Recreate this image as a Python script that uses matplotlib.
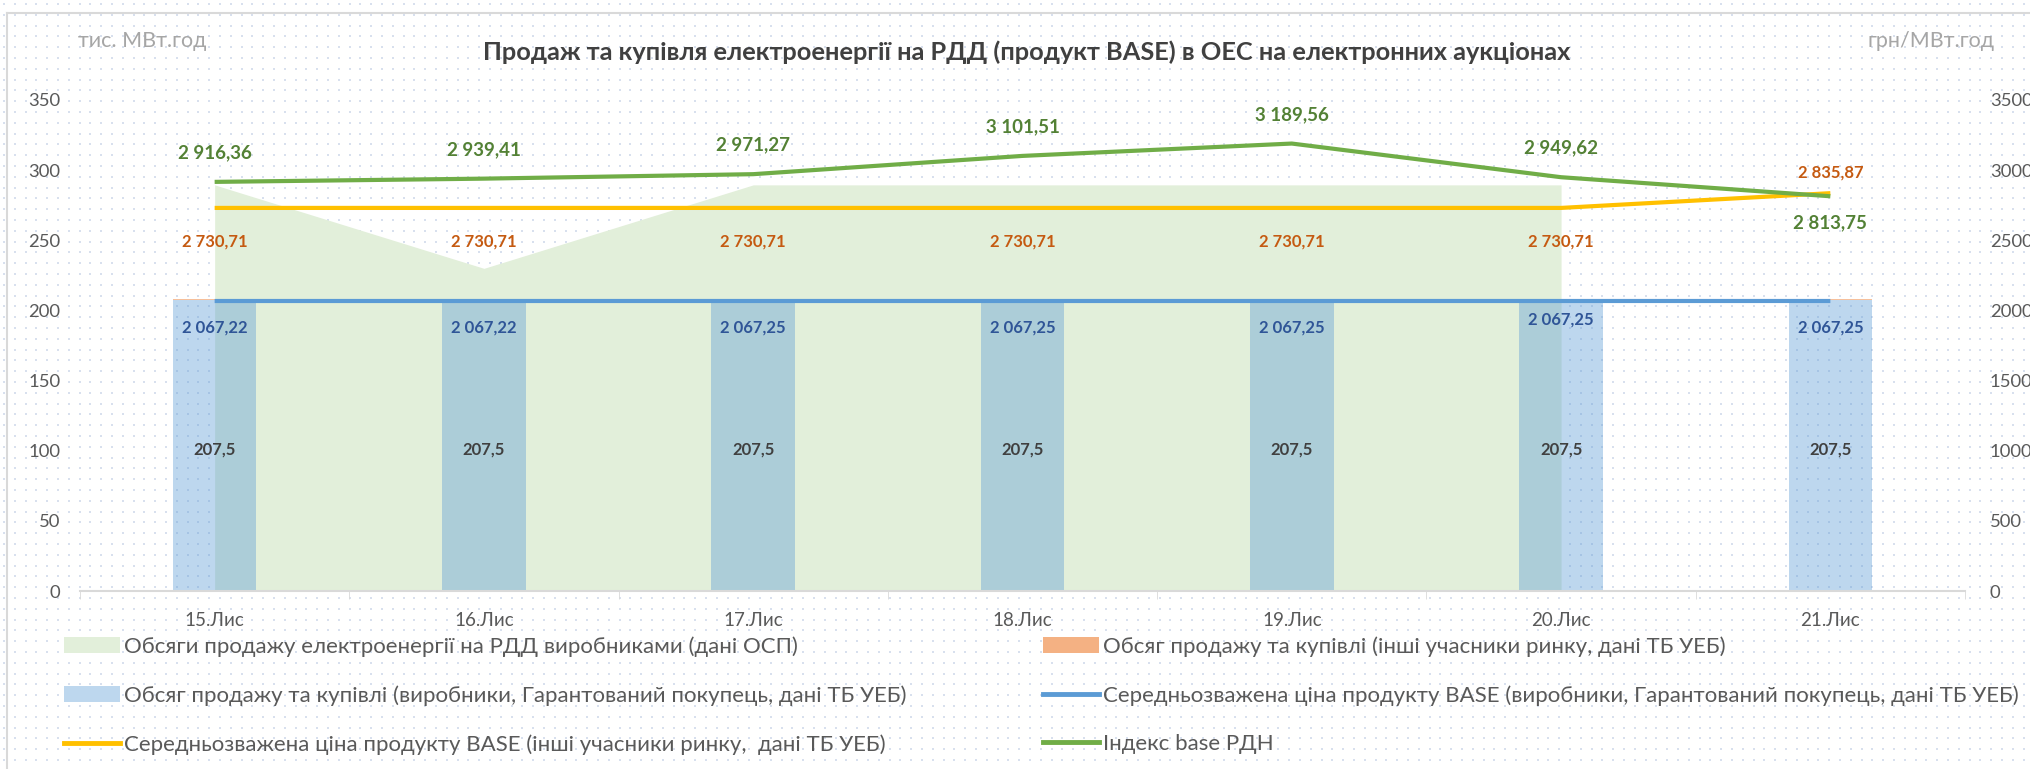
import numpy as np
import matplotlib.pyplot as plt
from matplotlib.patches import Patch
from matplotlib.lines import Line2D

plt.rcParams['font.family'] = ['Lato', 'DejaVu Sans']

# дані
dates = ['15.Лис', '16.Лис', '17.Лис', '18.Лис', '19.Лис', '20.Лис', '21.Лис']
osp_volume = [289.5, 230.0, 289.5, 289.5, 289.5, 289.5, np.nan]
ueb_volume = [207.5, 207.5, 207.5, 207.5, 207.5, 207.5, 207.5]
other_volume = [1.0, 1.0, 1.0, 1.0, 1.0, 1.0, 1.0]
price_producers = [2067.22, 2067.22, 2067.25, 2067.25, 2067.25, 2067.25, 2067.25]
price_others = [2730.71, 2730.71, 2730.71, 2730.71, 2730.71, 2730.71, 2835.87]
index_base = [2916.36, 2939.41, 2971.27, 3101.51, 3189.56, 2949.62, 2813.75]


def fmt(v):
    return f'{v:,.2f}'.replace(',', ' ').replace('.', ',')


W, H = 2031, 769
fig = plt.figure(figsize=(W / 100, H / 100), dpi=100)
fig.patch.set_facecolor('white')

# фон з точками
bg = fig.add_axes([0, 0, 1, 1], zorder=-10)
bg.set_xlim(0, W)
bg.set_ylim(H, 0)
bg.axis('off')
gx, gy = np.meshgrid(np.arange(4, W, 10.8), np.arange(4, H, 10.8))
bg.scatter(gx.ravel(), gy.ravel(), s=1.8, marker='s', color='#D8E0EE', linewidths=0)
bg.plot([7, W], [13, 13], color='#D9D9D9', lw=1.5)
bg.plot([7, 7], [13, H], color='#D9D9D9', lw=1.5)

ax = fig.add_axes([80 / W, 1 - 591 / H, (1965 - 80) / W, (591 - 100) / H])
ax.set_facecolor('none')
x = np.arange(len(dates))

ax.fill_between(x, osp_volume, color='#E2EFDA', lw=0, zorder=1)
ax.bar(x, ueb_volume, width=0.31, color='#5B9BD5', alpha=0.4, zorder=2)
ax.bar(x, other_volume, width=0.31, bottom=ueb_volume, color='#F4B183', alpha=0.8, zorder=2)
for xi, v in zip(x, ueb_volume):
    ax.text(xi, v / 2 - 3, f'{v:g}'.replace('.', ','), ha='center', va='center',
            fontsize=12, fontweight='bold', color='#404040', zorder=5)

ax.set_xlim(-0.5, 6.5)
ax.set_ylim(0, 350)
ax.set_yticks(np.arange(0, 351, 50))
ax.set_xticks(x)
ax.set_xticklabels(dates)
ax.set_xticks(np.arange(-0.5, 7, 1), minor=True)
ax.tick_params(axis='x', which='major', length=0, pad=15, labelsize=13.5, labelcolor='#595959')
ax.tick_params(axis='x', which='minor', length=6, color='#D9D9D9', direction='out')
ax.tick_params(axis='y', length=0, pad=14, labelsize=13.3, labelcolor='#595959')
for s in ['top', 'left', 'right']:
    ax.spines[s].set_visible(False)
ax.spines['bottom'].set_color('#D9D9D9')
ax.spines['bottom'].set_linewidth(1.5)

ax2 = ax.twinx()
ax2.set_ylim(0, 3500)
ax2.set_yticks(np.arange(0, 3501, 500))
ax2.tick_params(axis='y', length=0, pad=18, labelsize=13.3, labelcolor='#595959')
for s in ax2.spines.values():
    s.set_visible(False)

ax2.plot(x, price_producers, color='#5B9BD5', lw=3, solid_capstyle='butt')
ax2.plot(x, price_others, color='#FFC000', lw=3, solid_capstyle='butt')
ax2.plot(x, index_base, color='#70AD47', lw=3, solid_capstyle='butt')

# підписи даних
for i, v in enumerate(index_base):
    dy = -19 if i == 6 else 21
    ax2.annotate(fmt(v), (i, v), xytext=(0, dy), textcoords='offset points', ha='center',
                 va='center', fontsize=13.5, fontweight='bold', color='#538135')
for i, v in enumerate(price_others):
    dy = 15 if i == 6 else -24
    ax2.annotate(fmt(v), (i, v), xytext=(0, dy), textcoords='offset points', ha='center',
                 va='center', fontsize=12, fontweight='bold', color='#C55A11')
for i, v in enumerate(price_producers):
    dy = -13 if i == 5 else -19
    ax2.annotate(fmt(v), (i, v), xytext=(0, dy), textcoords='offset points', ha='center',
                 va='center', fontsize=12, fontweight='bold', color='#2F5597')

fig.text(1027 / W, 1 - 52 / H,
         'Продаж та купівля електроенергії на РДД (продукт BASE) в ОЕС на електронних аукціонах',
         ha='center', va='center', fontsize=18.3, fontweight='bold', color='#404040')
fig.text(78 / W, 1 - 41 / H, 'тис. МВт.год', ha='left', va='center', fontsize=15.5, color='#A6A6A6')
fig.text(1995 / W, 1 - 41 / H, 'грн/МВт.год', ha='right', va='center', fontsize=15.5, color='#A6A6A6')

# легенда
left_handles = [
    Patch(facecolor='#E2EFDA', label='Обсяги продажу електроенергії на РДД виробниками (дані ОСП)'),
    Patch(facecolor='#BDD7EE', label='Обсяг продажу та купівлі (виробники, Гарантований покупець, дані ТБ УЕБ)'),
    Line2D([], [], color='#FFC000', lw=3.5,
           label='Середньозважена ціна продукту BASE (інші учасники ринку,  дані ТБ УЕБ)'),
]
right_handles = [
    Patch(facecolor='#F4B183', label='Обсяг продажу та купівлі (інші учасники ринку, дані ТБ УЕБ)'),
    Line2D([], [], color='#5B9BD5', lw=3.5,
           label='Середньозважена ціна продукту BASE (виробники, Гарантований покупець, дані ТБ УЕБ)'),
    Line2D([], [], color='#70AD47', lw=3.5, label='Індекс base РДН'),
]
for handles, xl in [(left_handles, 64), (right_handles, 1043)]:
    leg = fig.legend(handles=handles, loc='upper left', bbox_to_anchor=(xl / W, 1 - 636 / H),
                     frameon=False, fontsize=16, labelcolor='#595959', handlelength=2.5,
                     handleheight=0.75, handletextpad=0.18, labelspacing=1.28, borderaxespad=0,
                     borderpad=0)

fig.savefig('out.png', dpi=100)
